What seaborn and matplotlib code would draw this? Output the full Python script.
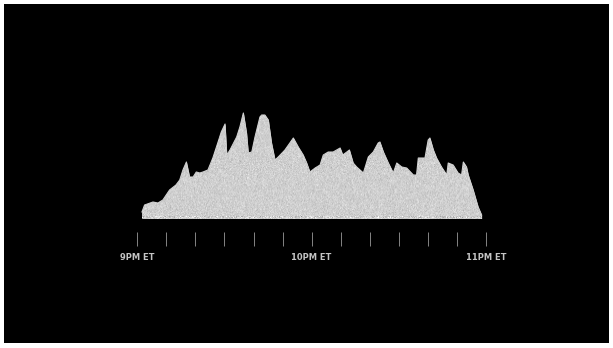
import numpy as np
import pandas as pd
import seaborn as sns
import matplotlib.pyplot as plt

# minutes after 9PM ET and relative volume (arbitrary units)
minutes = [1.6, 2.5, 5.4, 7.1, 8.8, 11.1, 13.3, 14.6, 15.7, 16.9, 18.0, 19.2, 20.3, 21.5,
           22.6, 24.3, 26.0, 27.8, 28.9, 30.2, 30.8, 31.9, 34.2, 35.3, 36.5, 37.6, 38.2,
           39.4, 40.5, 42.2, 42.8, 43.9, 45.1, 46.2, 47.4, 48.5, 50.8, 52.5, 53.7, 55.4,
           57.1, 58.3, 59.4, 61.2, 62.9, 64.0, 65.7, 67.4, 68.6, 69.8, 70.7, 72.1, 73.0,
           74.3, 75.5, 77.8, 79.5, 81.2, 82.9, 83.5, 84.7, 86.4, 88.1, 89.3, 91.0, 92.7,
           95.0, 96.1, 96.7, 99.0, 100.1, 100.7, 101.9, 103.0, 104.7, 106.5, 107.0, 108.7,
           110.4, 111.6, 112.2, 113.3, 113.9, 115.6, 117.3, 118.5]
volume = [5, 12, 15, 14, 17, 27, 32, 37, 47, 55, 40, 40, 45, 44,
          45, 47, 59, 75, 85, 93, 62, 67, 80, 90, 104, 84, 64,
          65, 80, 100, 102, 102, 97, 74, 57, 60, 67, 74, 79, 70,
          62, 54, 45, 49, 52, 62, 65, 65, 67, 69, 62, 65, 67,
          54, 50, 44, 60, 65, 74, 75, 65, 54, 44, 54, 50, 49,
          42, 42, 59, 59, 77, 79, 67, 59, 50, 42, 54, 52,
          44, 42, 55, 50, 42, 27, 10, 2]

tick_minutes = list(range(0, 121, 10))
tick_labels = ['9PM ET', '', '', '', '', '', '10PM ET', '', '', '', '', '', '11PM ET']

df = pd.DataFrame({'minute': minutes, 'volume': volume})

W, H = 613, 348
fig = plt.figure(figsize=(W / 100, H / 100), dpi=100, facecolor='white')
# black panel inside a thin white frame
ax = fig.add_axes([4 / W, 5 / H, 605 / W, 339 / H])
ax.set_facecolor('black')

px_per_min = (486 - 137.3) / 120
ax.set_xlim((4 - 137.3) / px_per_min, (609 - 137.3) / px_per_min)
ax.set_ylim(-126, 213)

fill_col = '#d0d0d0'
poly = ax.fill_between(df['minute'], -1.5, df['volume'], color=fill_col, lw=0)
sns.lineplot(data=df, x='minute', y='volume', color=fill_col, lw=0.8, ax=ax)

# grainy texture clipped to the area
rng = np.random.default_rng(3)
tex = 0.81 + 0.035 * rng.standard_normal((110, 340))
tex[-3:, :] += 0.07 * rng.standard_normal((3, 340))
img = ax.imshow(np.clip(tex, 0, 1), cmap='gray', vmin=0, vmax=1, aspect='auto',
                extent=(min(minutes), max(minutes), -2, max(volume) + 2),
                interpolation='bilinear', zorder=3)
img.set_clip_path(poly.get_paths()[0], transform=ax.transData)

# time axis
for s in ['top', 'left', 'right']:
    ax.spines[s].set_visible(False)
ax.spines['bottom'].set_position(('data', -15))
ax.spines['bottom'].set_visible(False)
ax.set_yticks([])
ax.set_xticks(tick_minutes)
ax.set_xticklabels(tick_labels, fontsize=6, fontweight='bold', color='#c4c4c4')
ax.tick_params(axis='x', direction='out', length=10, width=0.6, color='#9a9a9a', pad=5)
ax.set_xlabel('')
ax.set_ylabel('')

fig.savefig('out.png', dpi=100, facecolor='white')
